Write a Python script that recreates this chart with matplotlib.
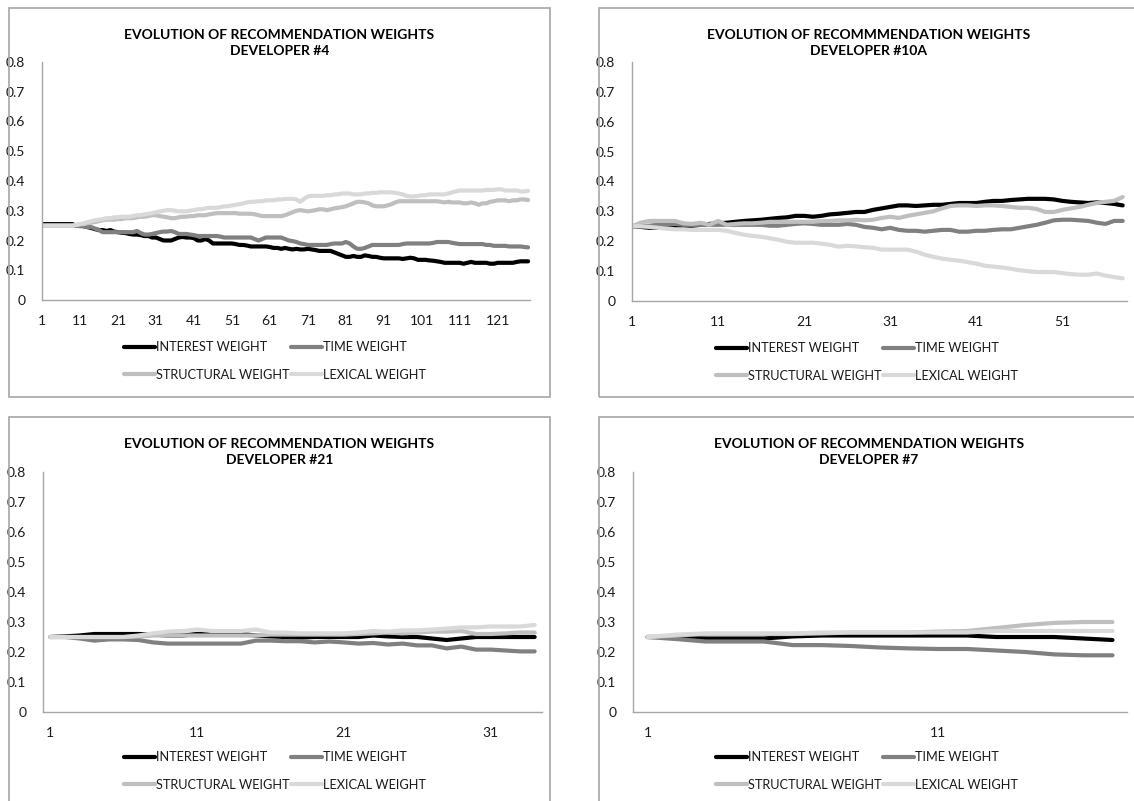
import matplotlib
matplotlib.use("Agg")
import matplotlib.pyplot as plt
from matplotlib.patches import Rectangle

plt.rcParams["font.family"] = ["Lato", "DejaVu Sans"]

# series shared by all four charts
series_names = ["INTEREST WEIGHT", "TIME WEIGHT", "STRUCTURAL WEIGHT", "LEXICAL WEIGHT"]
series_colors = ["#000000", "#808080", "#bfbfbf", "#d9d9d9"]
y_ticks = [0, 0.1, 0.2, 0.3, 0.4, 0.5, 0.6, 0.7, 0.8]
y_tick_labels = ["0", "0.1", "0.2", "0.3", "0.4", "0.5", "0.6", "0.7", "0.8"]

# Developer #4 (129 iterations)
dev4_interest = [
    0.255, 0.255, 0.255, 0.255, 0.255, 0.255, 0.255, 0.255, 0.255, 0.25,
    0.25, 0.248, 0.245, 0.242, 0.238, 0.235, 0.235, 0.232, 0.235, 0.23,
    0.228, 0.226, 0.225, 0.222, 0.22, 0.22, 0.218, 0.215, 0.215, 0.21,
    0.21, 0.205, 0.2, 0.2, 0.2, 0.205, 0.21, 0.212, 0.21, 0.21,
    0.208, 0.2, 0.2, 0.205, 0.2, 0.19, 0.19, 0.19, 0.19, 0.19,
    0.19, 0.188, 0.185, 0.185, 0.183, 0.18, 0.18, 0.18, 0.18, 0.18,
    0.178, 0.175, 0.175, 0.172, 0.175, 0.172, 0.17, 0.172, 0.17, 0.17,
    0.172, 0.17, 0.168, 0.165, 0.165, 0.165, 0.165, 0.16, 0.155, 0.15,
    0.145, 0.145, 0.148, 0.145, 0.145, 0.15, 0.148, 0.145, 0.145, 0.142,
    0.14, 0.14, 0.14, 0.14, 0.14, 0.138, 0.14, 0.142, 0.14, 0.135,
    0.135, 0.135, 0.133, 0.132, 0.13, 0.128, 0.125, 0.125, 0.125, 0.125,
    0.125, 0.122, 0.125, 0.128, 0.125, 0.125, 0.125, 0.125, 0.122, 0.122,
    0.125, 0.125, 0.125, 0.125, 0.125, 0.128, 0.13, 0.13, 0.13,
]
dev4_time = [
    0.25, 0.25, 0.25, 0.25, 0.25, 0.25, 0.25, 0.25, 0.25, 0.25,
    0.248, 0.248, 0.245, 0.245, 0.24, 0.235, 0.228, 0.228, 0.228, 0.228,
    0.228, 0.228, 0.228, 0.228, 0.228, 0.232, 0.225, 0.22, 0.22, 0.222,
    0.225, 0.228, 0.23, 0.23, 0.232, 0.228, 0.222, 0.222, 0.222, 0.22,
    0.218, 0.215, 0.215, 0.215, 0.215, 0.215, 0.215, 0.213, 0.21, 0.21,
    0.21, 0.21, 0.21, 0.21, 0.21, 0.21, 0.205, 0.2, 0.205, 0.21,
    0.21, 0.21, 0.21, 0.21, 0.205, 0.2, 0.198, 0.195, 0.19, 0.188,
    0.185, 0.185, 0.185, 0.185, 0.185, 0.185, 0.188, 0.19, 0.19, 0.19,
    0.195, 0.19, 0.18, 0.172, 0.172, 0.175, 0.18, 0.185, 0.185, 0.185,
    0.185, 0.185, 0.185, 0.185, 0.185, 0.188, 0.19, 0.19, 0.19, 0.19,
    0.19, 0.19, 0.19, 0.192, 0.195, 0.195, 0.195, 0.195, 0.192, 0.19,
    0.188, 0.188, 0.188, 0.188, 0.188, 0.188, 0.188, 0.185, 0.185, 0.182,
    0.182, 0.182, 0.182, 0.18, 0.18, 0.18, 0.18, 0.178, 0.177,
]
dev4_structural = [
    0.25, 0.25, 0.25, 0.25, 0.25, 0.25, 0.25, 0.25, 0.25, 0.252,
    0.255, 0.255, 0.258, 0.26, 0.262, 0.265, 0.268, 0.27, 0.27, 0.27,
    0.272, 0.272, 0.275, 0.275, 0.275, 0.278, 0.28, 0.28, 0.282, 0.285,
    0.285, 0.282, 0.28, 0.278, 0.275, 0.275, 0.278, 0.28, 0.28, 0.282,
    0.282, 0.285, 0.285, 0.285, 0.288, 0.29, 0.292, 0.292, 0.292, 0.292,
    0.292, 0.292, 0.29, 0.29, 0.29, 0.29, 0.288, 0.285, 0.282, 0.282,
    0.282, 0.282, 0.282, 0.282, 0.285, 0.29, 0.295, 0.3, 0.302, 0.3,
    0.298, 0.3, 0.302, 0.305, 0.305, 0.302, 0.305, 0.308, 0.31, 0.312,
    0.315, 0.32, 0.325, 0.33, 0.33, 0.328, 0.325, 0.318, 0.315, 0.315,
    0.315, 0.318, 0.322, 0.328, 0.332, 0.332, 0.332, 0.332, 0.332, 0.332,
    0.332, 0.332, 0.332, 0.332, 0.332, 0.33, 0.328, 0.33, 0.328, 0.328,
    0.328, 0.325, 0.325, 0.328, 0.325, 0.32, 0.325, 0.325, 0.33, 0.332,
    0.335, 0.335, 0.335, 0.332, 0.335, 0.335, 0.338, 0.338, 0.336,
]
dev4_lexical = [
    0.25, 0.25, 0.25, 0.25, 0.25, 0.25, 0.25, 0.25, 0.25, 0.252,
    0.255, 0.258, 0.262, 0.265, 0.268, 0.27, 0.272, 0.275, 0.275, 0.278,
    0.278, 0.28, 0.28, 0.28, 0.282, 0.285, 0.285, 0.288, 0.29, 0.292,
    0.295, 0.298, 0.3, 0.302, 0.302, 0.3, 0.298, 0.298, 0.298, 0.3,
    0.302, 0.305, 0.305, 0.308, 0.31, 0.31, 0.31, 0.312, 0.315, 0.315,
    0.318, 0.32, 0.322, 0.325, 0.328, 0.33, 0.33, 0.332, 0.332, 0.335,
    0.335, 0.335, 0.338, 0.338, 0.34, 0.34, 0.34, 0.338, 0.33, 0.34,
    0.348, 0.35, 0.35, 0.35, 0.35, 0.352, 0.352, 0.355, 0.355, 0.358,
    0.358, 0.358, 0.355, 0.355, 0.355, 0.358, 0.358, 0.36, 0.36, 0.362,
    0.362, 0.362, 0.362, 0.36, 0.358, 0.355, 0.35, 0.348, 0.348, 0.35,
    0.352, 0.352, 0.355, 0.355, 0.355, 0.355, 0.355, 0.358, 0.362, 0.365,
    0.368, 0.368, 0.368, 0.368, 0.368, 0.368, 0.368, 0.37, 0.37, 0.37,
    0.372, 0.372, 0.368, 0.368, 0.368, 0.368, 0.365, 0.365, 0.367,
]

# Developer #10A (58 iterations)
dev10a_interest = [
    0.25, 0.248, 0.245, 0.245, 0.248, 0.25, 0.25, 0.252, 0.255, 0.258,
    0.26, 0.262, 0.265, 0.268, 0.27, 0.272, 0.275, 0.278, 0.28, 0.285,
    0.285, 0.282, 0.285, 0.29, 0.292, 0.295, 0.298, 0.298, 0.305, 0.31,
    0.315, 0.32, 0.32, 0.318, 0.32, 0.322, 0.322, 0.325, 0.328, 0.328,
    0.328, 0.332, 0.335, 0.335, 0.338, 0.34, 0.342, 0.342, 0.342, 0.34,
    0.335, 0.332, 0.33, 0.328, 0.33, 0.328, 0.325, 0.32,
]
dev10a_time = [
    0.25, 0.25, 0.252, 0.255, 0.255, 0.258, 0.255, 0.255, 0.255, 0.255,
    0.255, 0.255, 0.255, 0.255, 0.255, 0.255, 0.252, 0.252, 0.255, 0.258,
    0.26, 0.258, 0.255, 0.255, 0.255, 0.258, 0.255, 0.248, 0.245, 0.24,
    0.245, 0.238, 0.235, 0.235, 0.232, 0.235, 0.238, 0.238, 0.232, 0.232,
    0.235, 0.235, 0.238, 0.24, 0.24, 0.245, 0.25, 0.255, 0.262, 0.27,
    0.272, 0.272, 0.27, 0.268, 0.262, 0.258, 0.268, 0.268,
]
dev10a_structural = [
    0.25, 0.262, 0.268, 0.268, 0.268, 0.268, 0.26, 0.258, 0.262, 0.255,
    0.268, 0.255, 0.258, 0.26, 0.26, 0.262, 0.265, 0.265, 0.265, 0.265,
    0.265, 0.265, 0.268, 0.268, 0.27, 0.27, 0.272, 0.27, 0.272, 0.278,
    0.282, 0.278, 0.285, 0.29, 0.295, 0.3, 0.31, 0.318, 0.32, 0.32,
    0.318, 0.32, 0.32, 0.318, 0.315, 0.312, 0.312, 0.308, 0.298, 0.298,
    0.305, 0.31, 0.315, 0.322, 0.328, 0.332, 0.335, 0.348,
]
dev10a_lexical = [
    0.25, 0.25, 0.248, 0.245, 0.242, 0.24, 0.24, 0.238, 0.238, 0.238,
    0.238, 0.235, 0.228, 0.222, 0.218, 0.215, 0.21, 0.205, 0.198, 0.195,
    0.195, 0.195, 0.192, 0.188, 0.182, 0.185, 0.183, 0.18, 0.178, 0.172,
    0.172, 0.172, 0.172, 0.165, 0.155, 0.148, 0.142, 0.138, 0.135, 0.13,
    0.125, 0.118, 0.115, 0.112, 0.108, 0.103, 0.1, 0.097, 0.097, 0.097,
    0.093, 0.09, 0.088, 0.088, 0.092, 0.085, 0.08, 0.076,
]

# Developer #21 (34 iterations)
dev21_interest = [
    0.25, 0.252, 0.255, 0.26, 0.26, 0.26, 0.26, 0.258, 0.255, 0.255,
    0.26, 0.26, 0.26, 0.26, 0.255, 0.252, 0.25, 0.248, 0.25, 0.25,
    0.25, 0.25, 0.255, 0.252, 0.25, 0.25, 0.245, 0.24, 0.245, 0.25,
    0.25, 0.25, 0.25, 0.25,
]
dev21_time = [
    0.25, 0.25, 0.245, 0.238, 0.242, 0.242, 0.24, 0.232, 0.228, 0.228,
    0.228, 0.228, 0.228, 0.228, 0.238, 0.238, 0.236, 0.236, 0.232, 0.235,
    0.232, 0.228, 0.23, 0.225, 0.228, 0.222, 0.222, 0.212, 0.218, 0.208,
    0.208, 0.205, 0.202, 0.202,
]
dev21_structural = [
    0.25, 0.25, 0.25, 0.25, 0.25, 0.25, 0.252, 0.255, 0.255, 0.255,
    0.255, 0.255, 0.255, 0.255, 0.255, 0.258, 0.258, 0.258, 0.258, 0.258,
    0.258, 0.26, 0.262, 0.265, 0.262, 0.265, 0.268, 0.268, 0.27, 0.26,
    0.26, 0.262, 0.265, 0.265,
]
dev21_lexical = [
    0.25, 0.25, 0.25, 0.25, 0.25, 0.25, 0.255, 0.262, 0.268, 0.27,
    0.275, 0.27, 0.27, 0.27, 0.275, 0.265, 0.265, 0.262, 0.262, 0.262,
    0.262, 0.265, 0.27, 0.268, 0.272, 0.272, 0.275, 0.278, 0.282, 0.282,
    0.285, 0.285, 0.285, 0.29,
]

# Developer #7 (17 iterations)
dev7_interest = [0.25, 0.25, 0.245, 0.245, 0.245, 0.252, 0.255, 0.255, 0.255,
                 0.255, 0.255, 0.255, 0.25, 0.25, 0.25, 0.245, 0.24]
dev7_time = [0.25, 0.243, 0.235, 0.235, 0.235, 0.223, 0.223, 0.22, 0.215,
             0.212, 0.21, 0.21, 0.205, 0.2, 0.192, 0.189, 0.189]
dev7_structural = [0.25, 0.255, 0.26, 0.26, 0.26, 0.26, 0.262, 0.265, 0.265,
                   0.265, 0.268, 0.27, 0.28, 0.29, 0.297, 0.3, 0.3]
dev7_lexical = [0.25, 0.258, 0.262, 0.262, 0.262, 0.262, 0.265, 0.265, 0.265,
                0.265, 0.265, 0.265, 0.27, 0.27, 0.27, 0.27, 0.27]

W, H = 1134, 801
fig = plt.figure(figsize=(W / 100, H / 100), dpi=100)


def fx(px):
    return px / W


def fy(py):
    return 1 - py / H


def draw_panel(frame, axbox, title, data, xticks, between, legend_x, legend_y):
    # outer chart-area border
    x0, y0, x1, y1 = frame
    fig.patches.append(Rectangle((fx(x0), fy(y1)), fx(x1 - x0), (y1 - y0) / H,
                                 transform=fig.transFigure, fill=False,
                                 edgecolor="#a6a6a6", lw=1.2))
    fig.text(fx((x0 + x1) / 2), fy(y0 + 35), title, ha="center", va="center",
             fontsize=10, fontweight="bold", linespacing=1.45)

    left, top, right, bottom = axbox
    ax = fig.add_axes([fx(left), fy(bottom), fx(right - left), (bottom - top) / H])
    lines = []
    for vals, name, col in zip(data, series_names, series_colors):
        xs = list(range(1, len(vals) + 1))
        ln, = ax.plot(xs, vals, color=col, lw=3.0, label=name,
                      solid_joinstyle="round", solid_capstyle="round")
        lines.append(ln)
    n = len(data[0])
    if between:
        ax.set_xlim(0.5, n + 0.5)
    else:
        ax.set_xlim(1, n + 0.5)
    ax.set_ylim(0, 0.8)
    ax.set_yticks(y_ticks)
    ax.set_yticklabels(y_tick_labels)
    ax.set_xticks(xticks)
    ax.set_xticklabels([str(t) for t in xticks])
    ax.tick_params(length=0, labelsize=10, colors="#1a1a1a")
    ax.tick_params(axis="y", pad=12)
    ax.tick_params(axis="x", pad=11)
    for s in ["top", "right"]:
        ax.spines[s].set_visible(False)
    for s in ["left", "bottom"]:
        ax.spines[s].set_color("#a6a6a6")
        ax.spines[s].set_linewidth(1.0)
    ax.patch.set_alpha(0)

    # row-wise legend: interest, time / structural, lexical
    order = [0, 2, 1, 3]
    fig.legend([lines[i] for i in order], [series_names[i] for i in order],
               loc="center left", bbox_to_anchor=(fx(legend_x), fy(legend_y)),
               ncol=2, frameon=False, fontsize=9.2, handlelength=2.4,
               handletextpad=0.1, columnspacing=0.15, labelspacing=1.2,
               borderpad=0, borderaxespad=0, labelcolor="#1a1a1a")
    return ax


draw_panel((9, 8, 550, 397), (42, 62, 530, 300),
           "EVOLUTION OF RECOMMENDATION WEIGHTS\nDEVELOPER #4",
           [dev4_interest, dev4_time, dev4_structural, dev4_lexical],
           [1, 11, 21, 31, 41, 51, 61, 71, 81, 91, 101, 111, 121], False, 124, 361)
draw_panel((599, 8, 1139, 397), (632, 62, 1127, 301),
           "EVOLUTION OF RECOMMMENDATION WEIGHTS\nDEVELOPER #10A",
           [dev10a_interest, dev10a_time, dev10a_structural, dev10a_lexical],
           [1, 11, 21, 31, 41, 51], False, 716, 362)
draw_panel((9, 417, 550, 820), (43, 472, 542, 712),
           "EVOLUTION OF RECOMMENDATION WEIGHTS\nDEVELOPER #21",
           [dev21_interest, dev21_time, dev21_structural, dev21_lexical],
           [1, 11, 21, 31], True, 124, 771)
draw_panel((599, 417, 1139, 820), (633, 472, 1127, 712),
           "EVOLUTION OF RECOMMENDATION WEIGHTS\nDEVELOPER #7",
           [dev7_interest, dev7_time, dev7_structural, dev7_lexical],
           [1, 11], True, 716, 771)

fig.savefig("out.png", dpi=100)
